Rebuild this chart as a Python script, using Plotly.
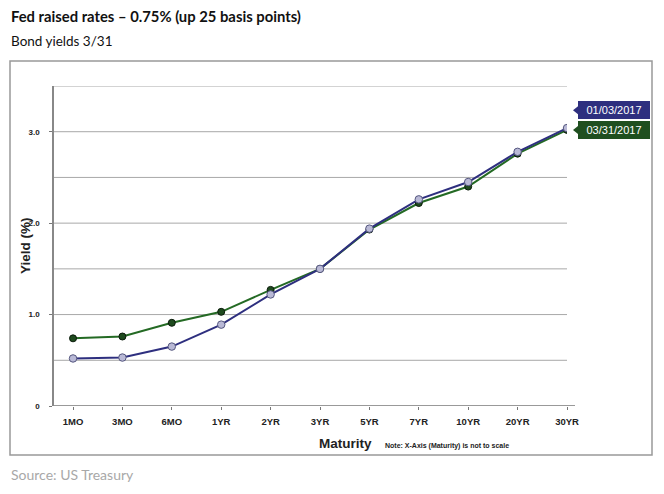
import plotly.graph_objects as go

maturities = ["1MO", "3MO", "6MO", "1YR", "2YR", "3YR", "5YR", "7YR", "10YR", "20YR", "30YR"]
yields_0103 = [0.52, 0.53, 0.65, 0.89, 1.22, 1.50, 1.94, 2.26, 2.45, 2.78, 3.04]
yields_0331 = [0.74, 0.76, 0.91, 1.03, 1.27, 1.50, 1.93, 2.22, 2.40, 2.76, 3.02]
label_0103 = "01/03/2017"
label_0331 = "03/31/2017"
ytick_vals = [0, 1.0, 2.0, 3.0]
ytick_text = ["0", "1.0", "2.0", "3.0"]

NAVY = "#2E2F7F"
GREEN = "#246A24"

# page body has an 8px margin; figure is sized to fit the 664x494 window
OFF = 8
W, H = 648, 478
L = 54 - OFF
T = 86 - OFF
R = W - (567 - OFF)
B = H - (406 - OFF)
pw = W - L - R
ph = H - T - B

def px_x(p):
    # p is in page pixels
    return (p - OFF - L) / pw

def px_y(p):
    return (H - B - (p - OFF)) / ph

fig = go.Figure()
fig.add_trace(go.Scatter(
    x=maturities, y=yields_0331, mode="lines+markers", name=label_0331,
    line=dict(color=GREEN, width=2),
    marker=dict(size=7, color="#1E4A1E", line=dict(color="#0A1A0A", width=1)),
))
fig.add_trace(go.Scatter(
    x=maturities, y=yields_0103, mode="lines+markers", name=label_0103,
    line=dict(color=NAVY, width=2),
    marker=dict(size=7.5, color="#B9B9D6", line=dict(color="#55577F", width=1)),
))

fig.update_layout(
    width=W, height=H,
    margin=dict(l=L, r=R, t=T, b=B),
    paper_bgcolor="white", plot_bgcolor="white",
    showlegend=False,
    xaxis=dict(
        type="category", range=[-0.385, 10],
        showgrid=False, zeroline=False,
        showline=False,
        ticks="outside", ticklen=3, tickcolor="#777777",
        tickfont=dict(family="Liberation Sans, Arial", size=9.5, color="#222222", weight="bold"),
        ticklabelstandoff=4,
    ),
    yaxis=dict(
        range=[0, 3.5],
        tickvals=ytick_vals, ticktext=ytick_text,
        tickfont=dict(family="Liberation Sans, Arial", size=8, color="#222222", weight="bold"),
        showgrid=False, zeroline=False,
        showline=True, linecolor="#888888", linewidth=1.5,
        ticks="outside", ticklen=3, tickcolor="#777777",
        ticklabelstandoff=8,
    ),
)

# horizontal gridlines every 0.5
for g in [0.5, 1.0, 1.5, 2.0, 2.5, 3.0, 3.5]:
    fig.add_shape(type="line", xref="paper", yref="y", x0=0, x1=1, y0=g, y1=g,
                  line=dict(color="#A8A8A8", width=1), layer="below")

# x axis line extended slightly
fig.add_shape(type="line", xref="paper", yref="y", x0=0, x1=px_x(575), y0=0, y1=0,
              line=dict(color="#777777", width=1.5))

# outer frame
fig.add_shape(type="rect", xref="paper", yref="paper",
              x0=px_x(10), x1=px_x(652), y0=px_y(455), y1=px_y(61),
              line=dict(color="#999999", width=1.5))

# end labels
lab_x = px_x(578)
for text, yv, col in [(label_0103, yields_0331[-1] + 0.215, NAVY), (label_0331, yields_0331[-1], "#1F4F1F")]:
    fig.add_annotation(x=lab_x, y=yv, xref="paper", yref="y", text=text, showarrow=False,
                       xanchor="left", yanchor="middle", bgcolor=col, bordercolor=col, borderpad=2,
                       width=66, align="center",
                       font=dict(family="Liberation Sans, Arial", size=11, color="white"))
    d = 4 / ph * 3.5
    fig.add_shape(type="path", xref="paper", yref="y",
                  path=f"M {px_x(573)} {yv} L {lab_x} {yv + d} L {lab_x} {yv - d} Z",
                  fillcolor=col, line=dict(width=0))

# axis titles
fig.add_annotation(x=px_x(25), y=0.5, xref="paper", yref="paper", text="Yield (%)", textangle=-90,
                   xanchor="center", yanchor="middle",
                   showarrow=False, font=dict(family="Liberation Sans, Arial", size=13.5, color="#222222", weight="bold"))
fig.add_annotation(x=px_x(374), y=px_y(443), xref="paper", yref="paper", text="Maturity",
                   xanchor="right", yanchor="middle", showarrow=False,
                   font=dict(family="Liberation Sans, Arial", size=13.5, color="#222222", weight="bold"))
fig.add_annotation(x=px_x(383), y=px_y(446), xref="paper", yref="paper",
                   text="Note: X-Axis (Maturity) is not to scale",
                   xanchor="left", yanchor="middle", showarrow=False,
                   font=dict(family="Liberation Sans, Arial", size=7, color="#222222", weight="bold"))

# titles outside frame
fig.add_annotation(x=px_x(9), y=px_y(16), xref="paper", yref="paper",
                   text="Fed raised rates \u2013 0.75% (up 25 basis points)",
                   xanchor="left", yanchor="middle", showarrow=False,
                   font=dict(family="Lato, Open Sans", size=14.8, color="#111111", weight="bold"))
fig.add_annotation(x=px_x(9), y=px_y(41), xref="paper", yref="paper",
                   text="Bond yields 3/31",
                   xanchor="left", yanchor="middle", showarrow=False,
                   font=dict(family="Lato, Open Sans", size=13.5, color="#111111"))
fig.add_annotation(x=px_x(9), y=px_y(OFF + H - 1), xref="paper", yref="paper",
                   text="Source: US Treasury",
                   xanchor="left", yanchor="bottom", showarrow=False,
                   font=dict(family="Lato, Open Sans", size=14, color="#A8A8A8"))

fig.write_html("out.html")
